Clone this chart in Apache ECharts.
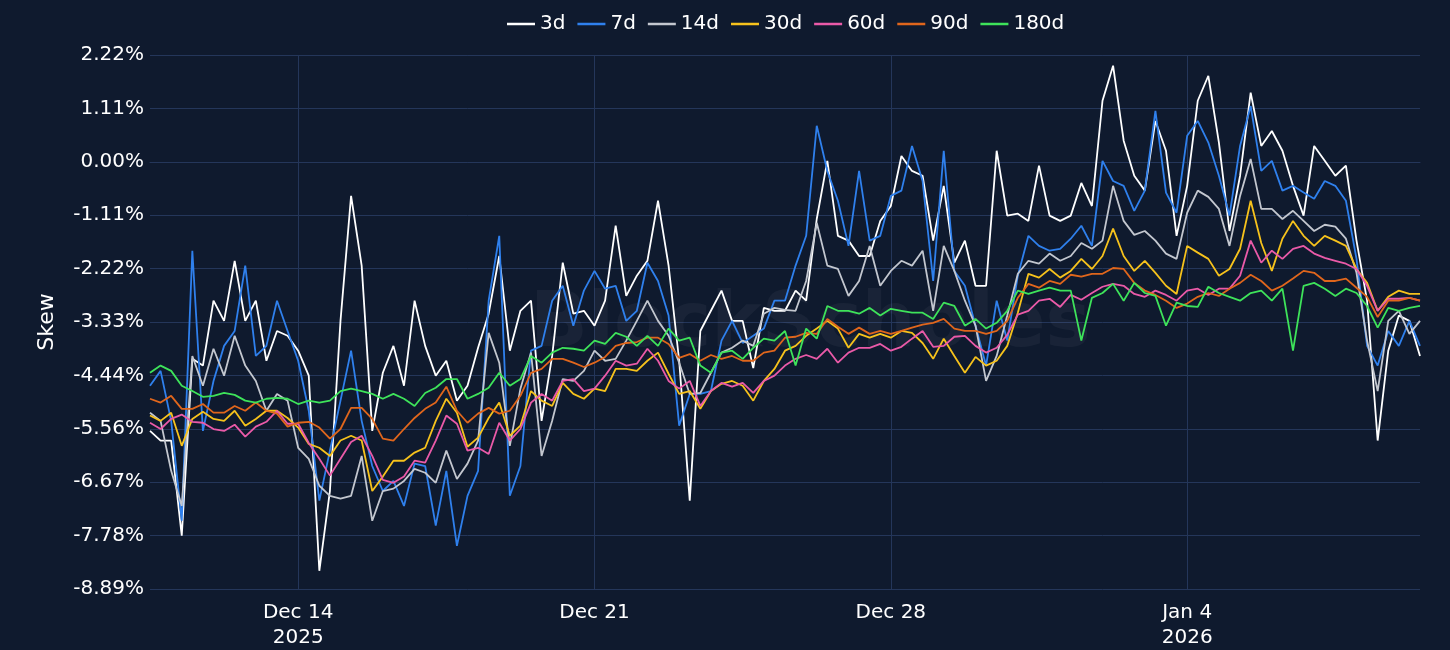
<!DOCTYPE html>
<html>
<head>
<meta charset="utf-8">
<title>Skew</title>
<script src="https://cdn.jsdelivr.net/npm/echarts@6.0.0/dist/echarts.min.js"></script>
<style>
html, body { margin: 0; padding: 0; background: #0f1a2e; }
#main { width: 1450px; height: 650px; }
</style>
</head>
<body>
<div id="main"></div>
<script>
// 6-hourly samples, Dec 10 12:00 -> Jan 9 12:00 (UTC)
var startTime = Date.UTC(2025, 11, 10, 12);
var stepHours = 6;

var tickDates = ['2025-12-14 00:00', '2025-12-21 00:00', '2025-12-28 00:00', '2026-01-04 00:00'];
var tickLabels = ['Dec 14\n2025', 'Dec 21', 'Dec 28', 'Jan 4\n2026'];

var seriesNames = ['3d', '7d', '14d', '30d', '60d', '90d', '180d'];
var seriesColors = ['#ffffff', '#2f80ed', '#c3c7cf', '#f6c21c', '#ea5aa8', '#e0661c', '#3ee35a'];

// skew in %
var skew3d = [-5.60,-5.80,-5.80,-7.78,-4.10,-4.24,-2.89,-3.31,-2.06,-3.31,
  -2.89,-4.14,-3.52,-3.62,-3.93,-4.45,-8.51,-6.85,-3.31,-0.71,
  -2.16,-5.60,-4.39,-3.83,-4.66,-2.89,-3.83,-4.45,-4.14,-4.97,
  -4.66,-3.87,-3.16,-1.96,-3.93,-3.10,-2.89,-5.39,-4.04,-2.10,
  -3.16,-3.10,-3.41,-2.89,-1.33,-2.79,-2.37,-2.06,-0.81,-2.16,
  -4.14,-7.05,-3.52,-3.10,-2.68,-3.31,-3.31,-4.29,-3.04,-3.10,
  -3.10,-2.68,-2.89,-1.19,0.02,-1.54,-1.64,-1.96,-1.96,-1.23,
  -0.92,0.12,-0.19,-0.29,-1.64,-0.50,-2.10,-1.64,-2.58,-2.58,
  0.23,-1.12,-1.08,-1.23,-0.08,-1.12,-1.23,-1.12,-0.44,-0.92,
  1.27,2.00,0.44,-0.29,-0.60,0.85,0.23,-1.54,-0.50,1.27,
  1.79,0.40,-1.44,-0.29,1.44,0.33,0.64,0.23,-0.50,-1.12,
  0.33,0.02,-0.29,-0.08,-1.64,-2.89,-5.80,-3.93,-3.20,-3.31,
  -4.04];
var skew7d = [-4.66,-4.35,-5.39,-7.47,-1.85,-5.60,-4.56,-3.83,-3.52,-2.16,
  -4.04,-3.83,-2.89,-3.52,-4.14,-5.18,-7.05,-6.01,-4.97,-3.93,
  -5.39,-6.33,-6.85,-6.64,-7.16,-6.28,-6.33,-7.57,-6.43,-7.99,
  -6.95,-6.43,-2.89,-1.54,-6.95,-6.33,-3.93,-3.83,-2.89,-2.58,
  -3.41,-2.68,-2.27,-2.64,-2.58,-3.31,-3.10,-2.10,-2.48,-3.20,
  -5.49,-4.83,-4.83,-4.77,-3.72,-3.31,-3.77,-3.62,-3.47,-2.89,
  -2.89,-2.16,-1.54,0.75,-0.19,-0.81,-1.75,-0.19,-1.64,-1.54,
  -0.71,-0.60,0.33,-0.40,-2.48,0.23,-2.27,-2.58,-3.41,-4.24,
  -2.89,-3.72,-2.37,-1.54,-1.75,-1.85,-1.81,-1.60,-1.33,-1.75,
  0.02,-0.40,-0.50,-1.02,-0.60,1.06,-0.64,-1.06,0.54,0.85,
  0.40,-0.29,-1.12,0.33,1.16,-0.19,0.02,-0.60,-0.50,-0.64,
  -0.77,-0.40,-0.50,-0.81,-2.02,-3.83,-4.24,-3.52,-3.83,-3.31,
  -3.83];
var skew14d = [-5.22,-5.39,-6.43,-7.16,-4.04,-4.66,-3.89,-4.45,-3.62,-4.24,
  -4.56,-5.18,-4.83,-4.97,-5.95,-6.18,-6.74,-6.95,-7.01,-6.95,
  -6.12,-7.47,-6.85,-6.80,-6.64,-6.39,-6.47,-6.68,-6.01,-6.60,
  -6.28,-5.80,-3.56,-4.18,-5.91,-4.72,-3.97,-6.12,-5.39,-4.52,
  -4.56,-4.35,-3.93,-4.14,-4.10,-3.72,-3.31,-2.89,-3.31,-3.62,
  -4.18,-4.83,-4.81,-4.39,-3.97,-3.87,-3.72,-3.83,-3.16,-3.04,
  -3.08,-3.10,-2.48,-1.27,-2.16,-2.23,-2.79,-2.48,-1.75,-2.58,
  -2.27,-2.06,-2.16,-1.85,-3.10,-1.75,-2.27,-2.89,-3.41,-4.56,
  -4.04,-3.20,-2.33,-2.06,-2.12,-1.91,-2.06,-1.96,-1.69,-1.81,
  -1.64,-0.50,-1.23,-1.52,-1.44,-1.64,-1.91,-2.02,-1.06,-0.60,
  -0.73,-0.98,-1.75,-0.71,0.06,-0.98,-0.98,-1.19,-1.02,-1.23,
  -1.44,-1.31,-1.35,-1.60,-2.31,-3.72,-4.77,-3.31,-3.10,-3.58,
  -3.31];
var skew30d = [-5.28,-5.39,-5.22,-5.91,-5.35,-5.20,-5.35,-5.39,-5.18,-5.49,
  -5.35,-5.18,-5.18,-5.33,-5.53,-5.87,-5.95,-6.12,-5.80,-5.70,
  -5.80,-6.85,-6.55,-6.22,-6.22,-6.05,-5.95,-5.39,-4.93,-5.22,
  -5.93,-5.74,-5.33,-5.01,-5.70,-5.49,-4.77,-4.97,-5.08,-4.60,
  -4.83,-4.93,-4.72,-4.77,-4.31,-4.31,-4.35,-4.14,-3.97,-4.41,
  -4.83,-4.77,-5.14,-4.77,-4.62,-4.56,-4.66,-4.97,-4.56,-4.31,
  -3.93,-3.83,-3.62,-3.47,-3.31,-3.47,-3.87,-3.58,-3.66,-3.58,
  -3.66,-3.52,-3.56,-3.77,-4.10,-3.68,-4.04,-4.39,-4.06,-4.24,
  -4.14,-3.83,-3.14,-2.33,-2.41,-2.23,-2.41,-2.27,-2.02,-2.23,
  -1.96,-1.39,-1.96,-2.27,-2.06,-2.31,-2.58,-2.75,-1.75,-1.89,
  -2.02,-2.37,-2.23,-1.81,-0.81,-1.69,-2.27,-1.60,-1.23,-1.54,
  -1.75,-1.54,-1.64,-1.75,-2.23,-2.52,-3.10,-2.81,-2.68,-2.75,
  -2.75];
var skew60d = [-5.43,-5.56,-5.35,-5.26,-5.41,-5.43,-5.56,-5.60,-5.47,-5.72,
  -5.51,-5.41,-5.18,-5.45,-5.45,-5.85,-6.18,-6.53,-6.18,-5.83,
  -5.70,-6.12,-6.62,-6.68,-6.55,-6.22,-6.26,-5.80,-5.28,-5.45,
  -6.01,-5.95,-6.08,-5.43,-5.80,-5.56,-5.01,-4.83,-4.97,-4.56,
  -4.52,-4.77,-4.72,-4.45,-4.14,-4.24,-4.20,-3.89,-4.14,-4.56,
  -4.72,-4.56,-5.08,-4.77,-4.60,-4.68,-4.60,-4.81,-4.56,-4.45,
  -4.24,-4.10,-4.02,-4.10,-3.89,-4.18,-3.97,-3.87,-3.87,-3.79,
  -3.93,-3.85,-3.68,-3.52,-3.85,-3.83,-3.64,-3.62,-3.83,-3.97,
  -3.87,-3.60,-3.18,-3.10,-2.89,-2.85,-3.02,-2.77,-2.87,-2.73,
  -2.60,-2.54,-2.58,-2.75,-2.81,-2.68,-2.77,-2.89,-2.68,-2.64,
  -2.77,-2.64,-2.64,-2.37,-1.64,-2.10,-1.85,-2.02,-1.81,-1.75,
  -1.91,-2.00,-2.06,-2.12,-2.23,-2.58,-3.10,-2.85,-2.85,-2.83,
  -2.89];
var skew90d = [-4.93,-5.01,-4.87,-5.14,-5.14,-5.04,-5.22,-5.22,-5.08,-5.18,
  -5.01,-5.18,-5.24,-5.51,-5.43,-5.41,-5.53,-5.76,-5.56,-5.12,
  -5.12,-5.35,-5.76,-5.80,-5.56,-5.33,-5.14,-5.01,-4.68,-5.18,
  -5.43,-5.24,-5.12,-5.24,-5.18,-4.87,-4.39,-4.31,-4.10,-4.10,
  -4.18,-4.27,-4.18,-4.06,-3.83,-3.77,-3.75,-3.66,-3.66,-3.79,
  -4.08,-4.00,-4.14,-4.02,-4.10,-4.04,-4.14,-4.14,-3.97,-3.93,
  -3.66,-3.64,-3.56,-3.58,-3.27,-3.43,-3.58,-3.45,-3.58,-3.52,
  -3.58,-3.52,-3.45,-3.39,-3.35,-3.27,-3.47,-3.52,-3.52,-3.58,
  -3.52,-3.31,-2.83,-2.54,-2.62,-2.48,-2.54,-2.35,-2.39,-2.33,
  -2.33,-2.21,-2.23,-2.52,-2.68,-2.77,-2.89,-3.04,-2.95,-2.81,
  -2.73,-2.79,-2.64,-2.52,-2.35,-2.48,-2.68,-2.58,-2.43,-2.27,
  -2.31,-2.48,-2.48,-2.43,-2.62,-2.81,-3.23,-2.89,-2.89,-2.83,
  -2.89];
var skew180d = [-4.39,-4.24,-4.35,-4.66,-4.77,-4.89,-4.87,-4.81,-4.85,-4.97,
  -5.01,-4.93,-4.91,-4.93,-5.04,-4.97,-5.01,-4.97,-4.77,-4.72,
  -4.77,-4.83,-4.93,-4.83,-4.93,-5.08,-4.81,-4.70,-4.52,-4.52,
  -4.93,-4.83,-4.70,-4.39,-4.66,-4.52,-4.04,-4.18,-3.97,-3.87,
  -3.89,-3.93,-3.72,-3.79,-3.56,-3.64,-3.83,-3.62,-3.83,-3.47,
  -3.72,-3.66,-4.24,-4.39,-3.97,-3.93,-4.10,-3.87,-3.68,-3.72,
  -3.52,-4.24,-3.47,-3.68,-3.00,-3.10,-3.10,-3.16,-3.04,-3.20,
  -3.06,-3.10,-3.14,-3.14,-3.27,-2.93,-3.00,-3.41,-3.27,-3.47,
  -3.35,-3.10,-2.68,-2.75,-2.68,-2.62,-2.68,-2.68,-3.72,-2.83,
  -2.73,-2.54,-2.89,-2.52,-2.73,-2.79,-3.41,-2.93,-3.00,-3.02,
  -2.60,-2.73,-2.81,-2.89,-2.73,-2.68,-2.89,-2.64,-3.93,-2.58,
  -2.52,-2.64,-2.79,-2.64,-2.73,-3.00,-3.45,-3.04,-3.10,-3.04,
  -3.00];

var seriesData = [skew3d, skew7d, skew14d, skew30d, skew60d, skew90d, skew180d];

function pad(n) { return n < 10 ? '0' + n : '' + n; }
var times = [];
for (var i = 0; i < skew3d.length; i++) {
  var d = new Date(startTime + i * stepHours * 3600000);
  times.push(d.getUTCFullYear() + '-' + pad(d.getUTCMonth() + 1) + '-' + pad(d.getUTCDate()) + ' ' + pad(d.getUTCHours()) + ':00');
}

function isTick(index, value) {
  return tickDates.indexOf(value) >= 0;
}

var gridColor = '#24365a';
var myChart = echarts.init(document.getElementById('main'));

var series = seriesNames.map(function(name, k) {
  return {
    name: name,
    type: 'line',
    symbol: 'none',
    data: seriesData[k],
    lineStyle: { width: 1.8, color: seriesColors[k] },
    itemStyle: { color: seriesColors[k] },
    emphasis: { disabled: true }
  };
});

var option = {
  backgroundColor: '#0f1a2e',
  animation: false,
  textStyle: { fontFamily: 'DejaVu Sans' },
  graphic: [{
    type: 'text',
    left: 530,
    top: 288,
    z: 1,
    style: {
      text: 'BlockScholes',
      fontSize: 76,
      fontWeight: 'bold',
      fontFamily: 'DejaVu Sans',
      fill: 'rgba(255,255,255,0.045)'
    }
  }],
  legend: {
    top: 9,
    left: 502,
    icon: 'rect',
    itemWidth: 28,
    itemHeight: 2.5,
    itemGap: 12,
    data: seriesNames,
    textStyle: { color: '#ffffff', fontSize: 20 }
  },
  grid: { left: 150, right: 30, top: 55, bottom: 61 },
  xAxis: {
    type: 'category',
    boundaryGap: false,
    data: times,
    axisLine: { lineStyle: { color: gridColor } },
    axisTick: { show: true, interval: isTick, length: 5, lineStyle: { color: gridColor } },
    axisLabel: {
      color: '#ffffff',
      fontSize: 20,
      lineHeight: 25,
      margin: 11,
      interval: isTick,
      formatter: function(value) {
        var k = tickDates.indexOf(value);
        return k >= 0 ? tickLabels[k] : '';
      }
    },
    splitLine: { show: true, interval: isTick, lineStyle: { color: gridColor, width: 1 } }
  },
  yAxis: {
    type: 'value',
    min: -80 / 9,
    max: 20 / 9,
    interval: 10 / 9,
    name: 'Skew',
    nameLocation: 'middle',
    nameGap: 92,
    nameTextStyle: { color: '#ffffff', fontSize: 22 },
    axisLine: { show: false },
    axisTick: { show: false },
    axisLabel: {
      color: '#ffffff',
      fontSize: 20,
      margin: 6,
      formatter: function(v) {
        if (Math.abs(v) < 1e-9) v = 0;
        return v.toFixed(2) + '%';
      }
    },
    splitLine: { lineStyle: { color: gridColor, width: 1 } }
  },
  series: series
};

myChart.setOption(option);
</script>
</body>
</html>
